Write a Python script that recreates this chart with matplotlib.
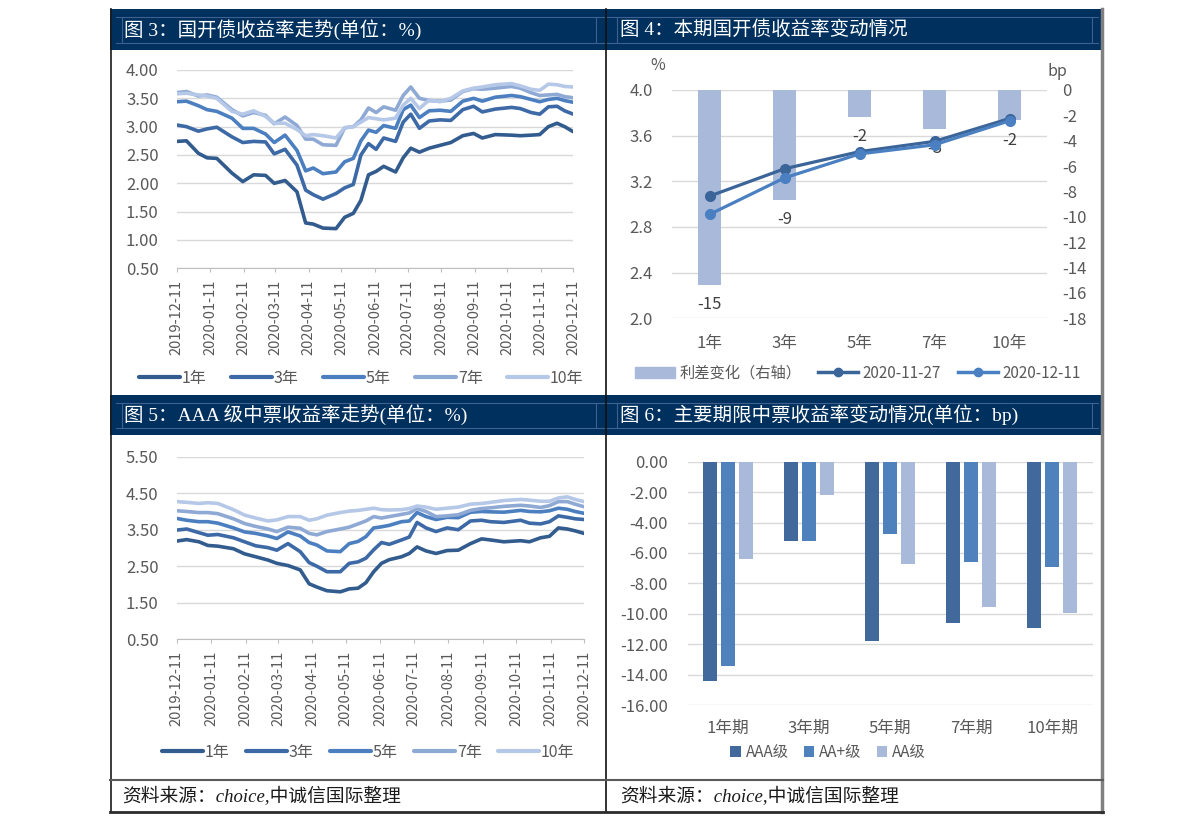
import matplotlib
matplotlib.use('Agg')
import matplotlib.pyplot as plt
import matplotlib.dates as mdates
from matplotlib.patches import Rectangle
from matplotlib.lines import Line2D
from matplotlib.ticker import FormatStrFormatter
import pandas as pd
import numpy as np

plt.rcParams['font.family'] = ['Noto Sans CJK SC', 'DejaVu Sans']
plt.rcParams['axes.unicode_minus'] = False

# ---------------- data ----------------
dates = ['2019-12-11', '2019-12-20', '2019-12-31', '2020-01-08', '2020-01-17', '2020-01-31',
         '2020-02-10', '2020-02-20', '2020-03-02', '2020-03-10', '2020-03-20', '2020-03-31',
         '2020-04-08', '2020-04-15', '2020-04-24', '2020-05-06', '2020-05-14', '2020-05-22',
         '2020-05-29', '2020-06-05', '2020-06-12', '2020-06-19', '2020-06-30', '2020-07-07',
         '2020-07-14', '2020-07-22', '2020-07-31', '2020-08-10', '2020-08-20', '2020-08-31',
         '2020-09-10', '2020-09-18', '2020-09-30', '2020-10-15', '2020-10-23', '2020-11-02',
         '2020-11-10', '2020-11-18', '2020-11-26', '2020-12-03', '2020-12-11']
series_names = ['1年', '3年', '5年', '7年', '10年']

cdb_1y = [2.74, 2.75, 2.53, 2.45, 2.44, 2.18, 2.03, 2.15, 2.14, 2.00, 2.05, 1.85, 1.30, 1.28,
          1.21, 1.20, 1.40, 1.47, 1.70, 2.15, 2.21, 2.30, 2.20, 2.45, 2.62, 2.55, 2.62, 2.67,
          2.72, 2.84, 2.88, 2.80, 2.86, 2.85, 2.84, 2.85, 2.86, 3.00, 3.06, 3.00, 2.91]
cdb_3y = [3.03, 3.00, 2.92, 2.96, 2.99, 2.82, 2.72, 2.74, 2.73, 2.52, 2.60, 2.32, 1.88, 1.80,
          1.72, 1.82, 1.92, 1.98, 2.50, 2.70, 2.60, 2.80, 2.74, 3.08, 3.22, 2.97, 3.10, 3.12,
          3.11, 3.30, 3.36, 3.26, 3.31, 3.34, 3.32, 3.25, 3.22, 3.35, 3.36, 3.28, 3.22]
cdb_5y = [3.44, 3.45, 3.37, 3.30, 3.27, 3.15, 2.97, 2.97, 2.87, 2.72, 2.85, 2.58, 2.22, 2.27,
          2.17, 2.20, 2.38, 2.44, 2.75, 2.94, 2.90, 3.02, 2.97, 3.30, 3.38, 3.16, 3.28, 3.29,
          3.27, 3.45, 3.50, 3.45, 3.52, 3.55, 3.53, 3.48, 3.44, 3.48, 3.50, 3.46, 3.43]
cdb_7y = [3.60, 3.62, 3.54, 3.56, 3.52, 3.30, 3.19, 3.25, 3.20, 3.05, 3.17, 3.02, 2.78, 2.78,
          2.68, 2.67, 2.98, 3.00, 3.12, 3.33, 3.25, 3.35, 3.29, 3.55, 3.70, 3.50, 3.46, 3.45,
          3.47, 3.62, 3.67, 3.66, 3.68, 3.71, 3.68, 3.60, 3.55, 3.56, 3.57, 3.53, 3.51]
cdb_10y = [3.58, 3.59, 3.56, 3.54, 3.50, 3.27, 3.22, 3.28, 3.18, 3.06, 3.06, 2.95, 2.84, 2.86,
           2.84, 2.80, 2.98, 3.00, 3.08, 3.16, 3.14, 3.12, 3.15, 3.38, 3.50, 3.32, 3.47, 3.44,
           3.50, 3.63, 3.68, 3.70, 3.74, 3.76, 3.72, 3.66, 3.64, 3.75, 3.74, 3.71, 3.70]

aaa_1y = [3.19, 3.23, 3.17, 3.07, 3.05, 2.98, 2.84, 2.76, 2.67, 2.58, 2.52, 2.40, 2.02, 1.93,
          1.83, 1.80, 1.88, 1.90, 2.05, 2.35, 2.58, 2.68, 2.76, 2.85, 3.03, 2.92, 2.85, 2.93,
          2.94, 3.12, 3.25, 3.22, 3.17, 3.20, 3.17, 3.28, 3.32, 3.55, 3.52, 3.47, 3.40]
aaa_3y = [3.49, 3.52, 3.42, 3.35, 3.37, 3.28, 3.17, 3.06, 3.01, 2.94, 3.12, 2.90, 2.60, 2.50,
          2.35, 2.35, 2.58, 2.62, 2.72, 2.95, 3.15, 3.10, 3.22, 3.30, 3.70, 3.55, 3.45, 3.55,
          3.50, 3.74, 3.76, 3.72, 3.70, 3.76, 3.68, 3.66, 3.72, 3.88, 3.84, 3.80, 3.78]
aaa_5y = [3.81, 3.76, 3.72, 3.72, 3.68, 3.55, 3.44, 3.40, 3.33, 3.26, 3.44, 3.33, 3.15, 3.08,
          2.92, 2.90, 3.12, 3.18, 3.31, 3.55, 3.58, 3.62, 3.72, 3.74, 3.97, 3.86, 3.78, 3.84,
          3.83, 3.98, 4.00, 3.99, 3.98, 4.03, 4.00, 3.99, 4.02, 4.09, 4.06, 4.00, 3.95]
aaa_7y = [4.02, 4.00, 3.97, 3.97, 3.94, 3.80, 3.67, 3.59, 3.52, 3.45, 3.57, 3.54, 3.40, 3.36,
          3.45, 3.52, 3.57, 3.66, 3.74, 3.86, 3.82, 3.86, 3.92, 3.96, 4.08, 4.00, 3.86, 3.88,
          3.91, 4.03, 4.08, 4.10, 4.14, 4.17, 4.15, 4.11, 4.16, 4.27, 4.27, 4.20, 4.13]
aaa_10y = [4.27, 4.25, 4.22, 4.24, 4.22, 4.05, 3.90, 3.82, 3.74, 3.77, 3.86, 3.86, 3.76, 3.80,
           3.90, 3.97, 4.01, 4.03, 4.06, 4.09, 4.05, 4.04, 4.05, 4.08, 4.15, 4.12, 4.06, 4.09,
           4.12, 4.20, 4.22, 4.25, 4.30, 4.33, 4.31, 4.28, 4.28, 4.37, 4.40, 4.33, 4.27]

tenors = ['1年', '3年', '5年', '7年', '10年']
spread_bp = [-15.4, -8.7, -2.1, -3.1, -2.4]
yield_1127 = [3.07, 3.31, 3.46, 3.55, 3.75]
yield_1211 = [2.91, 3.23, 3.44, 3.52, 3.73]

terms = ['1年期', '3年期', '5年期', '7年期', '10年期']
chg_aaa = [-14.40, -5.22, -11.77, -10.59, -10.96]
chg_aap = [-13.41, -5.22, -4.78, -6.58, -6.95]
chg_aa = [-6.40, -2.21, -6.75, -9.58, -9.95]

# ---------------- style ----------------
W, H = 1191, 825
fig = plt.figure(figsize=(W / 100, H / 100), dpi=100)
fig.patch.set_facecolor('white')

def fx(x):
    return x / W

def fy(y):
    return 1 - y / H

def rect(x0, y0, x1, y1):
    return [fx(x0), fy(y1), fx(x1) - fx(x0), fy(y0) - fy(y1)]

NAVY = '#00305e'
INNER = '#3f6190'
TXT = '#595959'
GRID = '#d9d9d9'
line_cols = ['#325b8e', '#3d6aa6', '#4b7fc0', '#8fa9d5', '#b6c8e7']

# frame / headers
for (y0, y1) in [(9, 50), (395, 435)]:
    fig.add_artist(Rectangle((fx(110), fy(y1)), fx(1103) - fx(110), fy(y0) - fy(y1),
                             transform=fig.transFigure, facecolor=NAVY, edgecolor='none', zorder=0))
    for yy in (y0 + 8, y1 - 7):
        fig.add_artist(Line2D([fx(116), fx(1098)], [fy(yy), fy(yy)], transform=fig.transFigure,
                              color=INNER, lw=0.8))
    for xx in (122, 596, 617, 1092):
        fig.add_artist(Line2D([fx(xx), fx(xx)], [fy(y0 + 8), fy(y1 - 7)], transform=fig.transFigure,
                              color=INNER, lw=0.8))

fig.add_artist(Line2D([fx(110.5), fx(110.5)], [fy(9), fy(812)], transform=fig.transFigure, color='#1a1a1a', lw=1.2))
fig.add_artist(Line2D([fx(1102), fx(1102)], [fy(9), fy(812)], transform=fig.transFigure, color='#808080', lw=2.5))
fig.add_artist(Line2D([fx(606), fx(606)], [fy(9), fy(812)], transform=fig.transFigure, color='#111111', lw=1.2))
fig.add_artist(Line2D([fx(110), fx(1103)], [fy(780), fy(780)], transform=fig.transFigure, color='#595959', lw=1.5))
fig.add_artist(Line2D([fx(110), fx(1103)], [fy(812), fy(812)], transform=fig.transFigure, color='#2b2b2b', lw=2))

title_font = ['Liberation Serif', 'Noto Sans CJK SC']
for (xx, yy, t) in [(124, 30, '图 3：国开债收益率走势(单位：%)'),
                    (620, 30, '图 4：本期国开债收益率变动情况'),
                    (124, 415, '图 5：AAA 级中票收益率走势(单位：%)'),
                    (620, 415, '图 6：主要期限中票收益率变动情况(单位：bp)')]:
    fig.text(fx(xx), fy(yy), t, color='white', fontsize=14, family=title_font, va='center', ha='left')
for xx in (122, 620):
    fig.text(fx(xx), fy(797), '资料来源：choice,中诚信国际整理', color='#1a1a1a', fontsize=13.5,
             family=title_font, style='italic', va='center', ha='left')


def line_panel(box, series, ymin, ymax, step, leg_center, colsp):
    ax = fig.add_axes(rect(*box))
    d = pd.to_datetime(dates)
    for vals, c, n in zip(series, line_cols, series_names):
        ax.plot(d, vals, color=c, lw=2.6, label=n, solid_joinstyle='round', solid_capstyle='round')
    ax.set_xlim(pd.Timestamp('2019-12-11'), pd.Timestamp('2020-12-11'))
    ax.set_ylim(ymin, ymax)
    ax.set_yticks(np.arange(ymin, ymax + 0.001, step))
    ax.yaxis.set_major_formatter(FormatStrFormatter('%.2f'))
    ax.xaxis.set_major_locator(mdates.MonthLocator(bymonthday=11))
    ax.xaxis.set_major_formatter(mdates.DateFormatter('%Y-%m-%d'))
    ax.grid(axis='y', color=GRID, lw=1)
    ax.set_axisbelow(True)
    for s in ('left', 'right', 'top'):
        ax.spines[s].set_visible(False)
    ax.spines['bottom'].set_color('#bfbfbf')
    ax.tick_params(axis='y', length=0, pad=13, labelsize=12, labelcolor=TXT)
    ax.tick_params(axis='x', length=3, color='#bfbfbf', pad=5, labelsize=10.5, labelcolor=TXT,
                   labelrotation=90)
    handles = [Line2D([], [], color=c, lw=3, solid_capstyle='round') for c in line_cols]
    ax.legend(handles, series_names, loc='center', bbox_to_anchor=(fx(leg_center[0]), fy(leg_center[1])),
              bbox_transform=fig.transFigure, ncol=5, frameon=False, fontsize=11.5, labelcolor=TXT,
              handlelength=2.6, handletextpad=0.1, columnspacing=colsp)
    return ax


line_panel((176.7, 70, 573.3, 268.3), [cdb_1y, cdb_3y, cdb_5y, cdb_7y, cdb_10y], 0.5, 4.0, 0.5,
           (361, 378), 1.5)
line_panel((176.7, 456.7, 584, 639.3), [aaa_1y, aaa_3y, aaa_5y, aaa_7y, aaa_10y], 0.5, 5.5, 1.0,
           (368, 752), 1.0)

# ---------------- panel 4 ----------------
r4 = rect(672, 90, 1047, 318.3)
axg = fig.add_axes(r4)
x = np.arange(len(tenors))
axg.set_xlim(-0.5, len(tenors) - 0.5)
axg.set_ylim(2.0, 4.0)
axg.set_yticks(np.arange(2.0, 4.01, 0.4))
axg.yaxis.set_major_formatter(FormatStrFormatter('%.1f'))
axg.grid(axis='y', color=GRID, lw=1)
axg.set_xticks(x)
axg.set_xticklabels(tenors)
for s in axg.spines.values():
    s.set_visible(False)
axg.tick_params(axis='y', length=0, pad=14, labelsize=12, labelcolor=TXT)
axg.tick_params(axis='x', length=0, pad=12, labelsize=12, labelcolor=TXT)

axb = axg.twinx()
bars = axb.bar(x, spread_bp, width=0.31, color='#a9b9d9', zorder=2)
axb.set_ylim(-18, 0)
axb.set_yticks(np.arange(-18, 0.1, 2))
axb.yaxis.set_major_formatter(FormatStrFormatter('%d'))
for s in axb.spines.values():
    s.set_visible(False)
axb.tick_params(axis='y', length=0, pad=11, labelsize=12, labelcolor=TXT)
axb.bar_label(bars, fmt='%.0f', padding=8, fontsize=12, color='#404040')

axl = axg.twinx()
axl.set_ylim(2.0, 4.0)
axl.set_xlim(-0.5, len(tenors) - 0.5)
axl.plot(x, yield_1127, color='#3b6499', lw=2.3, marker='o', ms=7, label='2020-11-27')
axl.plot(x, yield_1211, color='#4a80c2', lw=2.3, marker='o', ms=7, label='2020-12-11')
axl.set_yticks([])
for s in axl.spines.values():
    s.set_visible(False)

fig.text(fx(658), fy(66), '%', color=TXT, fontsize=11.5, ha='center', va='center')
fig.text(fx(1057), fy(71), 'bp', color=TXT, fontsize=11.5, ha='center', va='center')

h4 = [Rectangle((0, 0), 1, 1, color='#a9b9d9'),
      Line2D([], [], color='#3b6499', lw=2.5, marker='o', ms=6),
      Line2D([], [], color='#4a80c2', lw=2.5, marker='o', ms=6)]
axl.legend(h4, ['利差变化（右轴）', '2020-11-27', '2020-12-11'], loc='center',
           bbox_to_anchor=(fx(858), fy(373)), bbox_transform=fig.transFigure, ncol=3, frameon=False,
           fontsize=11, labelcolor=TXT, handlelength=2.6, handleheight=0.7, handletextpad=0.3,
           columnspacing=1.1)

# ---------------- panel 6 ----------------
ax6 = fig.add_axes(rect(687.5, 461.7, 1092.5, 705))
x6 = np.arange(len(terms))
bw = 0.173
off = 0.222
ax6.bar(x6 - off, chg_aaa, width=bw, color='#41699c', label='AAA级')
ax6.bar(x6, chg_aap, width=bw, color='#4f81bd', label='AA+级')
ax6.bar(x6 + off, chg_aa, width=bw, color='#a9b9d9', label='AA级')
ax6.set_xlim(-0.5, len(terms) - 0.5)
ax6.set_ylim(-16, 0)
ax6.set_yticks(np.arange(-16, 0.1, 2))
ax6.yaxis.set_major_formatter(FormatStrFormatter('%.2f'))
ax6.set_xticks(x6)
ax6.set_xticklabels(terms)
ax6.grid(axis='y', color=GRID, lw=1)
ax6.set_axisbelow(True)
for s in ax6.spines.values():
    s.set_visible(False)
ax6.tick_params(axis='y', length=0, pad=14, labelsize=12, labelcolor=TXT)
ax6.tick_params(axis='x', length=0, pad=11, labelsize=12, labelcolor=TXT)
ax6.legend(loc='center', bbox_to_anchor=(fx(828), fy(752)), bbox_transform=fig.transFigure, ncol=3,
           frameon=False, fontsize=11, labelcolor=TXT, handlelength=0.7, handleheight=0.7,
           handletextpad=0.3, columnspacing=1.0)

fig.savefig('out.png', dpi=100)
